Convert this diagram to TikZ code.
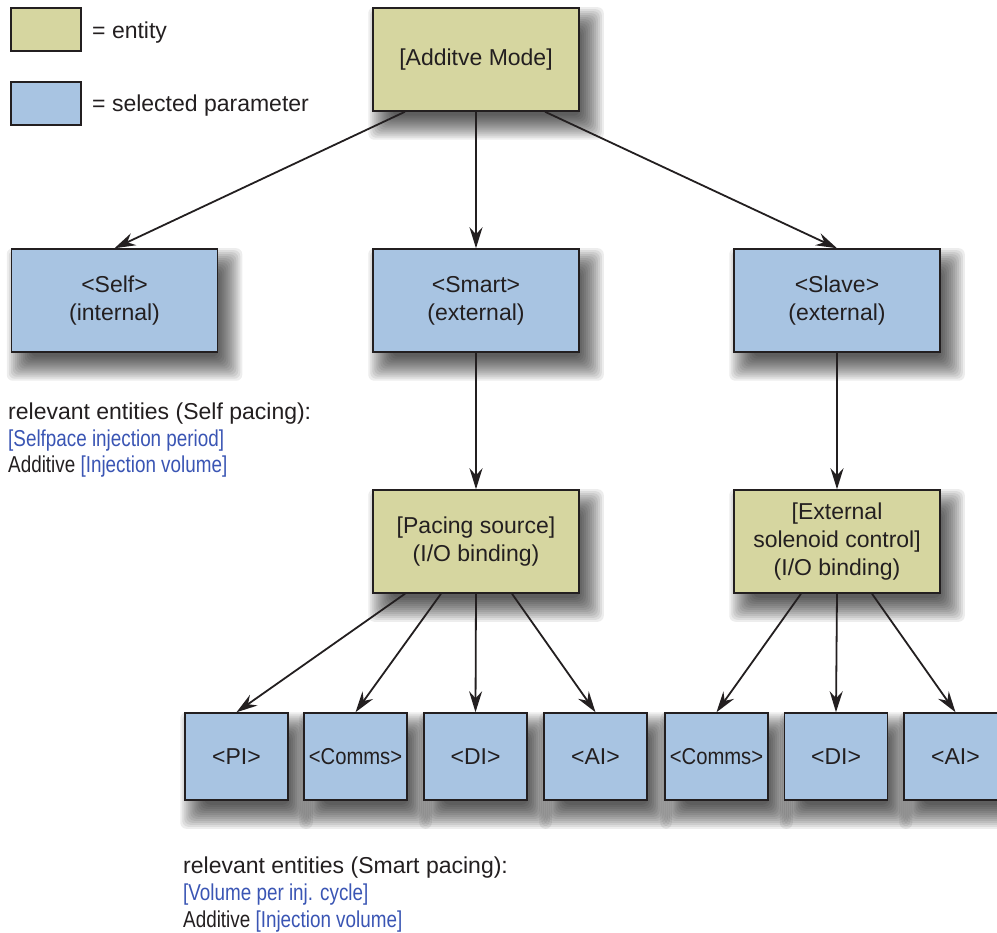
\documentclass[tikz,border=0pt]{standalone}
\usepackage{graphicx}
\usepackage{fontspec}
\setmainfont{Liberation Sans}
\usetikzlibrary{arrows.meta,calc}
\definecolor{ent}{HTML}{D6D6A0}
\definecolor{par}{HTML}{A8C4E2}
\definecolor{ink}{HTML}{231F20}
\definecolor{lnk}{HTML}{3A55B4}
\pgfdeclarelayer{bg}
\pgfsetlayers{bg,main}
\newcommand{\narrow}[1]{\scalebox{0.82}[1]{#1}}
\newcommand{\dshadow}[1]{%
  \begin{pgfonlayer}{bg}
  \foreach \e in {0,2,...,24}{%
    \fill[black, opacity=0.07, rounded corners=6pt]
      ($(#1.north west)+(20-\e,24-\e)$) rectangle ($(#1.south east)+(\e,4+\e)$);
  }
  \end{pgfonlayer}}
\begin{document}
\begin{tikzpicture}[x=1pt,y=-1pt,
  font=\fontsize{23}{28}\selectfont, text=ink,
  box/.style={draw=ink, line width=1.5pt, inner sep=0pt, align=center,
    minimum width=206pt, minimum height=103pt},
  entbox/.style={box, fill=ent},
  parbox/.style={box, fill=par},
  smallbox/.style={minimum width=103pt, minimum height=87pt},
  legbox/.style={draw=ink, line width=1.5pt, inner sep=0pt, minimum width=70pt, minimum height=43pt},
  txt/.style={anchor=base west, inner sep=0pt},
  arr/.style={draw=ink, line width=1.8pt, -{Stealth[length=21pt,width=13pt,inset=7pt]}}
]
\useasboundingbox (0,0) rectangle (997,933);
\begin{pgfonlayer}{bg}
\fill[white] (0,0) rectangle (997,933);
\end{pgfonlayer}

% legend
\node[legbox, fill=ent] (legE) at (46,29.5) {};
\node[legbox, fill=par] (legP) at (46,103.5) {};
\node[txt] (legEt) at (92,39) {= entity};
\node[txt] (legPt) at (92,112) {= selected parameter};

% top level
\node[entbox] (mode) at (476,59.5) {[Additve Mode]};
\node[parbox] (self) at (114.5,300.5) {<Self>\\(internal)};
\node[parbox] (smart) at (476,300.5) {<Smart>\\(external)};
\node[parbox] (slave) at (837,300.5) {<Slave>\\(external)};

% second level
\node[entbox] (pace) at (476,541.5) {[Pacing source]\\(I/O binding)};
\node[entbox] (ext) at (837,541.5) {[External\\solenoid control]\\(I/O binding)};

% bottom level
\node[parbox, smallbox] (pi) at (236.5,756.5) {<PI>};
\node[parbox, smallbox] (comA) at (355.5,756.5) {\scalebox{0.88}[1]{<Comms>}};
\node[parbox, smallbox] (diA) at (475.5,756.5) {<DI>};
\node[parbox, smallbox] (aiA) at (595.5,756.5) {<AI>};
\node[parbox, smallbox] (comB) at (716.5,756.5) {\scalebox{0.88}[1]{<Comms>}};
\node[parbox, smallbox] (diB) at (836,756.5) {<DI>};
\node[parbox, smallbox] (aiB) at (955.5,756.5) {<AI>};

% shadows
\dshadow{mode}\dshadow{self}\dshadow{smart}\dshadow{slave}
\dshadow{pace}\dshadow{ext}
\dshadow{pi}\dshadow{comA}\dshadow{diA}\dshadow{aiA}
\dshadow{comB}\dshadow{diB}\dshadow{aiB}

% arrows
\draw[arr] ($(mode.south)+(-71,0)$) -- (self.north);
\draw[arr] (mode.south) -- (smart.north);
\draw[arr] ($(mode.south)+(69,0)$) -- (slave.north);
\draw[arr] (smart.south) -- (pace.north);
\draw[arr] (slave.south) -- (ext.north);
\draw[arr] ($(pace.south)+(-71,0)$) -- (pi.north);
\draw[arr] ($(pace.south)+(-35,0)$) -- (comA.north);
\draw[arr] (pace.south) -- (diA.north);
\draw[arr] ($(pace.south)+(36,0)$) -- (aiA.north);
\draw[arr] ($(ext.south)+(-36,0)$) -- (comB.north);
\draw[arr] (ext.south) -- (diB.north);
\draw[arr] ($(ext.south)+(35,0)$) -- (aiB.north);

% notes
\node[txt] (selfA) at (8,420) {relevant entities (Self pacing):};
\node[txt, text=lnk] (selfB) at (8,447) {\narrow{[Selfpace injection period]}};
\node[txt] (selfC) at (8,473) {\narrow{Additive \textcolor{lnk}{[Injection volume]}}};
\node[txt] (smA) at (183,873) {relevant entities (Smart pacing):};
\node[txt, text=lnk] (smB) at (183,900) {\narrow{[Volume per inj. cycle]}};
\node[txt] (smC) at (183,927) {\narrow{Additive \textcolor{lnk}{[Injection volume]}}};
\end{tikzpicture}
\end{document}
